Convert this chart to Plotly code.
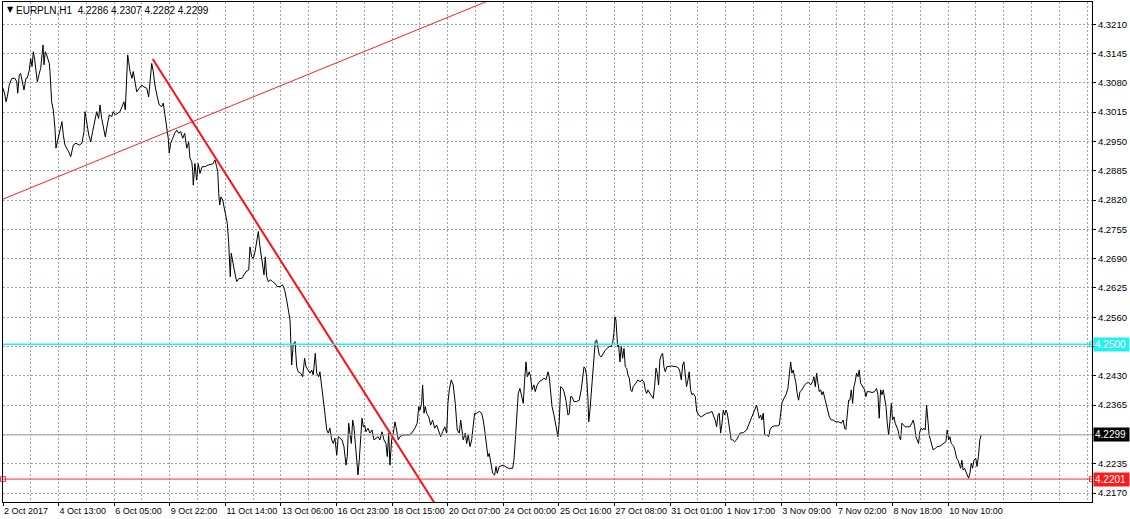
import plotly.graph_objects as go

# ---------------- data (bar index = hours since first bar, price) ----------------
seg_a_bars = [0.0,1.1,2.2,3.1,4.5,6.3,8.6,9.9,10.6,11.7,12.7,14.2,15.1,16.5,17.5,18.9,19.9,20.9,21.8,22.8,23.7,24.7,26.1,27.1,28.1,28.8,29.5,30.4,31.4,33.3,33.8,35.0,36.2,37.4,38.1,39.1,40.1,41.5,42.4,43.4,44.6,45.8,47.3,48.7,49.6,50.6,52.5,54.9,56.8,58.3,59.0,59.7,60.6,61.7,63.1,64.5,66.0,67.4,68.8,69.8,71.0,72.2,73.6,75.0,76.5,78.2,79.3,80.8,82.2,84.2,85.6,87.0,88.0,89.0,89.7,90.4,91.4,92.8,93.7,95.0,96.2,98.1,99.8,101.4,103.4,104.8,105.8,107.0,108.1,109.3,111.0,112.4]
seg_a_prices = [4.3068,4.3057,4.3038,4.3049,4.3075,4.3090,4.3090,4.3082,4.3057,4.3097,4.3101,4.3082,4.3064,4.3090,4.3091,4.3108,4.3134,4.3116,4.3149,4.3131,4.3101,4.3082,4.3101,4.3112,4.3142,4.3164,4.3120,4.3149,4.3142,4.3123,4.3105,4.3038,4.3020,4.2979,4.2935,4.2949,4.2964,4.2979,4.2994,4.2964,4.2942,4.2935,4.2927,4.2916,4.2931,4.2942,4.2946,4.2942,4.2946,4.2972,4.3016,4.3005,4.2986,4.2964,4.2949,4.2972,4.2994,4.3016,4.3001,4.3031,4.3001,4.2979,4.2960,4.2986,4.3009,4.3005,4.3016,4.3009,4.3012,4.3016,4.3027,4.3038,4.3020,4.3075,4.3142,4.3127,4.3105,4.3090,4.3105,4.3082,4.3060,4.3068,4.3075,4.3071,4.3068,4.3049,4.3090,4.3123,4.3105,4.3075,4.3049,4.3031]

seg_b_bars = [114.2,115.3,116.5,117.8,118.9,119.6,120.6,122.1,123.5,125.0,126.4,127.8,129.3,130.7,132.2,133.6,134.5,135.8,136.5,136.9,138.1,139.3,140.5,141.7,143.2,145.3,147.7,150.9,152.5,153.7,154.5,155.2,155.9,156.8,158.1,159.0,160.4,161.4,162.4,162.8,163.5,164.2,165.2,166.4,168.1,169.8,171.7,173.4,174.8,176.8,177.7,178.9,180.1,181.3,182.5,183.7,184.9,186.1,186.8,187.8,188.7,189.7,190.9,192.6,194.0,195.7,197.3,199.3,201.2,202.7,204.1,205.5]
seg_b_prices = [4.3027,4.3035,4.3009,4.2979,4.2957,4.2924,4.2946,4.2957,4.2968,4.2975,4.2968,4.2972,4.2957,4.2968,4.2935,4.2949,4.2913,4.2905,4.2883,4.2853,4.2901,4.2864,4.2901,4.2879,4.2894,4.2894,4.2898,4.2900,4.2909,4.2894,4.2883,4.2835,4.2809,4.2827,4.2820,4.2805,4.2787,4.2768,4.2724,4.2687,4.2650,4.2702,4.2680,4.2665,4.2639,4.2646,4.2646,4.2654,4.2661,4.2665,4.2716,4.2694,4.2691,4.2705,4.2731,4.2750,4.2716,4.2694,4.2680,4.2654,4.2694,4.2650,4.2639,4.2643,4.2639,4.2635,4.2628,4.2628,4.2632,4.2620,4.2598,4.2569]

seg_c_bars = [206.5,207.7,208.8,210.1,211.3,212.4,214.2,215.6,217.0,218.0,219.4,220.9,222.1,223.2,224.7,225.7,227.1,228.0,229.0,230.4,231.6,232.9,234.0,235.2,236.5,237.6,238.8,240.1,241.2,242.4,243.9,245.3,246.8,247.7,248.7,249.6,250.6,251.6,252.5,253.5,254.5,255.4,256.3,257.3,258.3,259.2,260.2,261.1,262.6,264.0,265.5,266.9,268.3,269.8,271.2,272.7,274.1,275.5,276.5,277.5,278.4,279.6,280.8,282.0,283.2,284.4,285.6,287.6,289.9,292.3,294.0,296.4,298.0,299.1,300.0,301.2,301.9,302.9,303.8,304.8,306.3,307.7,309.1,310.6,312.0,313.4,314.9,316.3,317.8,319.2,320.1,321.1,322.5,323.9,325.4,326.8,328.3,329.3,330.2,331.1,332.6,333.6,334.7,336.0,337.2,338.3,339.3,340.8,342.6,344.4,345.5,346.8,348.0,348.9,349.8,350.9,352.3,353.7,354.7,355.6,357.0]
seg_c_prices = [4.2554,4.2454,4.2500,4.2506,4.2450,4.2439,4.2436,4.2428,4.2469,4.2450,4.2443,4.2436,4.2443,4.2432,4.2480,4.2436,4.2428,4.2439,4.2414,4.2384,4.2347,4.2310,4.2303,4.2314,4.2288,4.2280,4.2292,4.2254,4.2295,4.2292,4.2288,4.2273,4.2232,4.2251,4.2325,4.2303,4.2280,4.2332,4.2317,4.2280,4.2243,4.2210,4.2243,4.2288,4.2336,4.2317,4.2321,4.2306,4.2314,4.2303,4.2310,4.2288,4.2292,4.2295,4.2288,4.2306,4.2288,4.2280,4.2251,4.2303,4.2232,4.2288,4.2303,4.2328,4.2310,4.2288,4.2295,4.2299,4.2299,4.2299,4.2303,4.2314,4.2325,4.2362,4.2354,4.2369,4.2410,4.2347,4.2362,4.2347,4.2339,4.2321,4.2332,4.2314,4.2321,4.2306,4.2295,4.2306,4.2317,4.2303,4.2369,4.2399,4.2421,4.2410,4.2369,4.2310,4.2303,4.2332,4.2303,4.2288,4.2303,4.2280,4.2299,4.2273,4.2288,4.2317,4.2347,4.2347,4.2351,4.2347,4.2332,4.2303,4.2266,4.2251,4.2258,4.2236,4.2214,4.2210,4.2229,4.2214,4.2229]

seg_d_bars = [359.9,363.5,366.7,367.6,368.6,369.6,370.7,371.9,373.4,374.3,375.3,376.3,377.2,378.6,379.6,380.6,382.0,382.9,384.4,385.8,387.8,389.2,390.6,392.1,393.0,394.0,395.0,396.4,397.3,398.3,399.3,400.2,401.2,402.7,403.6,405.0,406.5,407.4,408.4,409.3,410.8,412.7,414.6,416.0,417.0,418.0,418.9,419.9,420.9,421.4,422.3,423.2,424.2,425.1,426.1,427.1,428.0,429.0,430.4,431.9,433.3,434.7,436.2,437.6,438.6,439.5,440.3,441.0,441.5,442.2,442.9,443.9,444.8,445.8,446.8,447.7,448.7,449.6,450.6,451.6,452.5,453.4,455.4,456.8,458.3,459.7,461.1,462.1,463.1,464.0,465.4,466.9,467.8,468.8,469.8,470.7,471.7,472.6,473.6,474.6,475.5,476.5,477.5,480.8,484.7,486.1,487.0,488.0,489.0,489.9,490.8,491.8,492.8,493.7,494.7,495.7,496.6,498.1,499.1,500.5,502.4,504.3,506.2,508.1,510.1,511.0,512.4,513.4,514.4,515.3,516.3,517.3,518.2,519.2,520.1,521.1,522.1,523.0,523.9,524.9,526.4,527.8,529.3]
seg_d_prices = [4.2232,4.2225,4.2225,4.2243,4.2288,4.2347,4.2391,4.2402,4.2376,4.2369,4.2421,4.2461,4.2428,4.2439,4.2428,4.2399,4.2410,4.2395,4.2410,4.2417,4.2421,4.2425,4.2421,4.2439,4.2428,4.2391,4.2362,4.2343,4.2325,4.2310,4.2295,4.2328,4.2406,4.2402,4.2395,4.2376,4.2343,4.2347,4.2384,4.2384,4.2373,4.2373,4.2376,4.2399,4.2428,4.2450,4.2447,4.2428,4.2376,4.2328,4.2354,4.2391,4.2450,4.2480,4.2506,4.2510,4.2495,4.2476,4.2472,4.2480,4.2487,4.2491,4.2495,4.2495,4.2502,4.2524,4.2561,4.2554,4.2517,4.2495,4.2498,4.2461,4.2495,4.2469,4.2491,4.2450,4.2447,4.2432,4.2425,4.2399,4.2395,4.2406,4.2414,4.2421,4.2417,4.2421,4.2417,4.2399,4.2391,4.2399,4.2391,4.2384,4.2380,4.2406,4.2447,4.2436,4.2410,4.2465,4.2476,4.2480,4.2450,4.2439,4.2450,4.2452,4.2450,4.2447,4.2439,4.2421,4.2454,4.2461,4.2436,4.2406,4.2421,4.2439,4.2399,4.2388,4.2391,4.2384,4.2351,4.2343,4.2339,4.2343,4.2347,4.2348,4.2351,4.2343,4.2332,4.2317,4.2343,4.2347,4.2303,4.2325,4.2354,4.2343,4.2354,4.2347,4.2328,4.2303,4.2288,4.2288,4.2284,4.2288,4.2299]

seg_e_bars = [530.2,532.6,535.0,536.4,537.9,539.3,540.8,542.2,543.1,544.1,545.1,546.0,547.0,548.0,549.4,550.9,551.8,553.2,555.2,557.0,558.5,559.5,560.4,561.8,563.3,564.7,565.7,566.7,567.6,568.5,569.5,570.5,571.4,572.4,573.4,574.8,576.7,578.2,579.6,581.1,582.5,583.4,584.4,585.4,586.3,587.3,588.3,589.2,590.1,591.6,593.0,594.5,595.9,597.3,599.3,601.2,603.1,604.5,605.5,606.4,607.4,608.4,609.3,610.3,611.3,612.2,613.1,614.1,615.1,616.0,617.0,618.4,619.9,620.8,621.8,623.2,625.2,627.1,628.5,629.5,630.4,631.4,632.4,633.3,634.3,635.3,636.2,637.2,638.1,639.1,640.0,641.0,641.9,642.9,643.9,644.8,645.8,646.7,647.7,649.1,650.6,652.5,653.9,654.9,655.9,656.8,657.7,658.7,659.6,660.6,661.6,662.5,663.5,664.5,665.4,666.3,667.3,668.3,669.2,670.7,672.1,674.1,675.5,676.9,678.4,679.3,680.4,681.3,682.2,683.2,684.1,685.1,686.1,687.1,688.0,689.0,689.9,690.8,691.8,692.8,693.7,694.7,695.7,696.6,697.6,698.5,699.9,700.8,701.8,702.8,703.8]
seg_e_prices = [4.2303,4.2304,4.2310,4.2321,4.2332,4.2343,4.2351,4.2365,4.2351,4.2336,4.2343,4.2332,4.2347,4.2299,4.2299,4.2295,4.2310,4.2317,4.2319,4.2319,4.2321,4.2351,4.2369,4.2380,4.2388,4.2402,4.2428,4.2461,4.2436,4.2443,4.2428,4.2414,4.2391,4.2376,4.2395,4.2399,4.2410,4.2414,4.2415,4.2410,4.2417,4.2428,4.2406,4.2436,4.2414,4.2395,4.2399,4.2388,4.2395,4.2376,4.2358,4.2339,4.2332,4.2332,4.2328,4.2328,4.2325,4.2332,4.2314,4.2311,4.2343,4.2376,4.2376,4.2399,4.2369,4.2406,4.2417,4.2436,4.2428,4.2443,4.2414,4.2406,4.2399,4.2384,4.2395,4.2395,4.2393,4.2395,4.2402,4.2388,4.2336,4.2399,4.2388,4.2399,4.2380,4.2362,4.2325,4.2299,4.2328,4.2369,4.2332,4.2339,4.2325,4.2317,4.2310,4.2295,4.2288,4.2325,4.2321,4.2317,4.2317,4.2317,4.2325,4.2332,4.2317,4.2295,4.2288,4.2280,4.2306,4.2314,4.2310,4.2314,4.2310,4.2365,4.2332,4.2299,4.2288,4.2273,4.2266,4.2269,4.2273,4.2274,4.2277,4.2280,4.2284,4.2310,4.2288,4.2295,4.2280,4.2277,4.2273,4.2262,4.2247,4.2243,4.2232,4.2225,4.2243,4.2221,4.2225,4.2217,4.2210,4.2203,4.2214,4.2236,4.2225,4.2243,4.2247,4.2229,4.2251,4.2288,4.2299]

# trend lines (bar, price) and horizontal levels
trend_thin_bars = [0.0, 400.0]
trend_thin_prices = [4.2822, 4.3326]
trend_thick_bars = [107.7, 330.0]
trend_thick_prices = [4.3133, 4.2053]
level_cyan = 4.2500
level_red = 4.2201
level_last = 4.2299

# axes
x_range = [0.0, 783.5]
y_range = [4.21502, 4.32593]
time_label_bars = [0, 40, 80, 120, 160, 200, 240, 280, 320, 360, 400, 440, 480, 520, 560, 600, 640, 680]
time_labels = ["2 Oct 2017", "4 Oct 13:00", "6 Oct 05:00", "9 Oct 22:00", "11 Oct 14:00", "13 Oct 06:00",
               "16 Oct 23:00", "18 Oct 15:00", "20 Oct 07:00", "24 Oct 00:00", "25 Oct 16:00", "27 Oct 08:00",
               "31 Oct 01:00", "1 Nov 17:00", "3 Nov 09:00", "7 Nov 02:00", "8 Nov 18:00", "10 Nov 10:00"]
price_ticks = [4.2170, 4.2235, 4.2300, 4.2365, 4.2430, 4.2495, 4.2560, 4.2625, 4.2690, 4.2755,
               4.2820, 4.2885, 4.2950, 4.3015, 4.3080, 4.3145, 4.3210]
hidden_ticks = [4.2300, 4.2495]
title_symbol = "EURPLN,H1"
title_ohlc = ["4.2286", "4.2307", "4.2282", "4.2299"]

segs = [(seg_a_bars, seg_a_prices), (seg_b_bars, seg_b_prices), (seg_c_bars, seg_c_prices),
        (seg_d_bars, seg_d_prices), (seg_e_bars, seg_e_prices)]
bars, prices = [], []
for i, (b, p) in enumerate(segs):
    assert len(b) == len(p), f"segment {i}: {len(b)} bars vs {len(p)} prices"
    bars += b
    prices += p

FONT = "Liberation Sans"
GRID = "#9ca6b3"

fig = go.Figure()

fig.add_trace(go.Scatter(x=bars, y=prices, mode="lines",
                         line=dict(color="black", width=1), hoverinfo="skip", showlegend=False))
fig.add_trace(go.Scatter(x=trend_thin_bars, y=trend_thin_prices, mode="lines",
                         line=dict(color="#ff2020", width=1), showlegend=False))
fig.add_trace(go.Scatter(x=trend_thick_bars, y=trend_thick_prices, mode="lines",
                         line=dict(color="#ff1010", width=2), showlegend=False))

# horizontal levels
fig.add_shape(type="line", xref="paper", x0=0, x1=1, yref="y", y0=level_last, y1=level_last,
              line=dict(color="#9ba4ae", width=1))
fig.add_shape(type="line", xref="paper", x0=0, x1=1, yref="y", y0=level_cyan, y1=level_cyan,
              line=dict(color="#22f0f0", width=1.5))
fig.add_shape(type="line", xref="paper", x0=0, x1=1, yref="y", y0=level_red, y1=level_red,
              line=dict(color="#ff3030", width=1))

# small anchor squares at line ends
fig.add_trace(go.Scatter(x=[x_range[0], x_range[1]], y=[level_red, level_red], mode="markers",
                         marker=dict(symbol="square-open", size=5, color="#ff3030", line=dict(width=1)),
                         cliponaxis=False, showlegend=False))
fig.add_trace(go.Scatter(x=[x_range[1]], y=[level_cyan], mode="markers",
                         marker=dict(symbol="square-open", size=5, color="#22d0d0", line=dict(width=1)),
                         cliponaxis=False, showlegend=False))

# price label boxes on axis
for lvl, bg in [(level_cyan, "#22f0f0"), (level_last, "#000000"), (level_red, "#ff1a1a")]:
    fig.add_annotation(xref="paper", x=1, xanchor="left", yref="y", y=lvl, yanchor="middle",
                       text=f"{lvl:.4f}", showarrow=False, bgcolor=bg, borderpad=1, xshift=1,
                       font=dict(family=FONT, size=10, color="white"), width=33, align="left")

# title
fig.add_annotation(xref="paper", yref="paper", x=0, y=1, xanchor="left", yanchor="top",
                   xshift=2, yshift=-1, text="\u25bc", showarrow=False,
                   font=dict(family="DejaVu Sans", size=8, color="black"))
fig.add_annotation(xref="paper", yref="paper", x=0, y=1, xanchor="left", yanchor="top",
                   xshift=11, yshift=-1,
                   text=title_symbol + "\u00a0\u00a0" + "\u00a0".join(title_ohlc), showarrow=False,
                   font=dict(family=FONT, size=10, color="black"))

tick_text = ["" if any(abs(t - h) < 1e-9 for h in hidden_ticks) else f"{t:.4f}" for t in price_ticks]

fig.update_layout(
    width=1130, height=519,
    margin=dict(l=3, r=38, t=2, b=17, autoexpand=False),
    paper_bgcolor="white", plot_bgcolor="white",
    showlegend=False,
    xaxis=dict(range=x_range, tickmode="array", tickvals=time_label_bars, ticktext=time_labels,
               tickangle=0, automargin=False,
               ticks="outside", ticklen=3, tickcolor="black", ticklabelposition="outside right",
               tickfont=dict(family=FONT, size=9, color="black"),
               showgrid=True, gridcolor=GRID, griddash="2px,2px", gridwidth=1,
               minor=dict(tick0=0, dtick=20, showgrid=True, gridcolor=GRID, griddash="2px,2px",
                          gridwidth=1, ticks=""),
               showline=True, linecolor="black", linewidth=1, mirror=True, zeroline=False,
               fixedrange=True),
    yaxis=dict(range=y_range, side="right", tickmode="array", tickvals=price_ticks, ticktext=tick_text,
               automargin=False,
               ticks="outside", ticklen=3, tickcolor="black",
               tickfont=dict(family=FONT, size=9.5, color="black"),
               showgrid=True, gridcolor=GRID, griddash="2px,2px", gridwidth=1,
               showline=True, linecolor="black", linewidth=1, mirror=True, zeroline=False,
               fixedrange=True),
)

fig.write_html("out.html", config={"displayModeBar": False},
               post_script="document.body.style.margin='0';document.body.style.padding='0';document.body.style.overflow='hidden';")
